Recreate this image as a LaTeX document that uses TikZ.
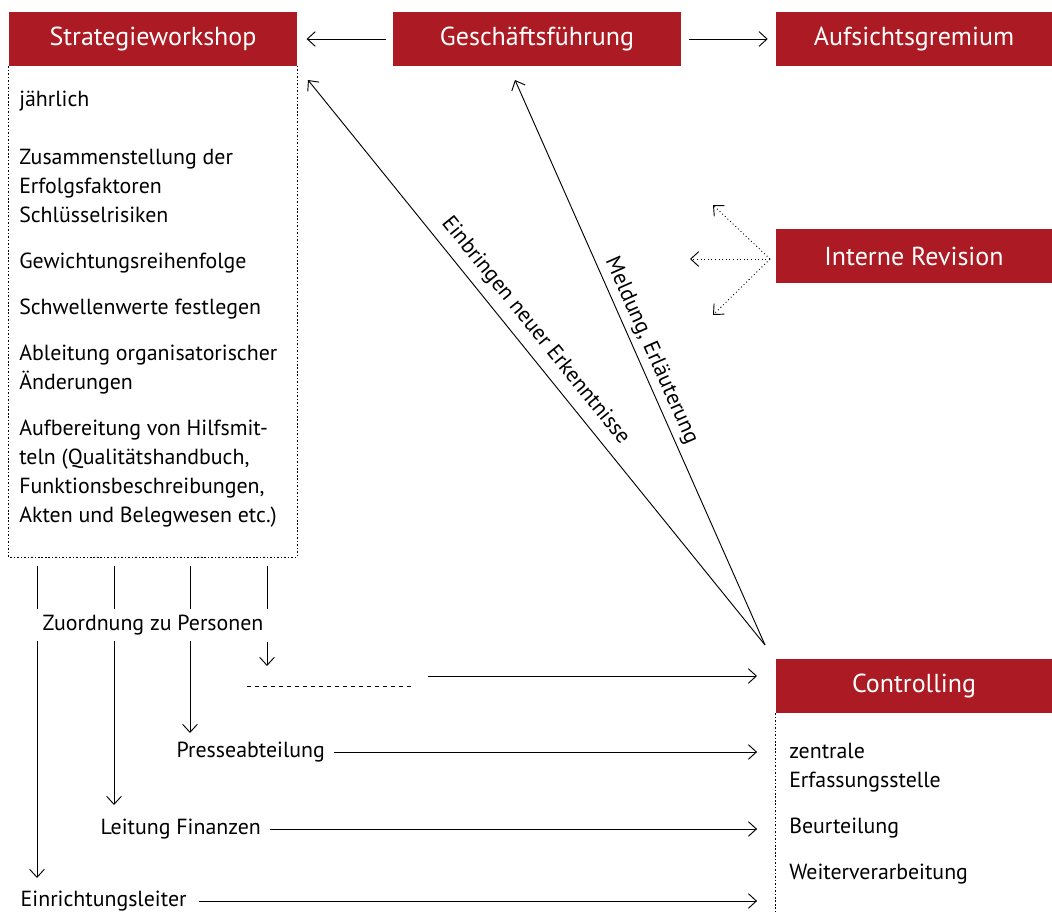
\documentclass[tikz,border=0pt]{standalone}
\usepackage{fontspec}
\setmainfont{PT Sans}
\usetikzlibrary{positioning,arrows.meta}
\definecolor{wred}{RGB}{172,27,35}
\tikzset{
  head/.style={fill=wred, text=white, minimum width=216pt, minimum height=40.5pt,
    inner sep=0pt, font=\fontsize{19.5}{22}\selectfont},
  rhead/.style={head, minimum width=207pt},
  item/.style={align=left, inner sep=0pt, font=\fontsize{16.4}{21.75}\selectfont},
  label/.style={font=\fontsize{16.4}{19}\selectfont},
  link/.style={-{Straight Barb[length=6pt, width=11pt]}, line width=0.7pt},
  frame/.style={line width=0.7pt, dash pattern=on 1.2pt off 1.4pt},
}
\begin{document}
\begin{tikzpicture}[x=0.75pt, y=-0.75pt]
  \useasboundingbox (0,0) rectangle (1052,912);

  % Kopfzeile
  \node[head] (strat) at (153,39) {Strategieworkshop};
  \node[head] (gf) at (537,39) {Geschäftsführung};
  \node[rhead] (aufs) at (914,39) {Aufsichtsgremium};
  \node[rhead] (rev) at (914,256) {Interne Revision};
  \node[rhead] (ctrl) at (914,686) {Controlling};

  \draw[link, shorten <=5pt, shorten >=7pt] (gf.west) -- (strat.east);
  \draw[link, shorten <=6pt, shorten >=6pt] (gf.east) -- (aufs.west);

  % Aufgaben Strategieworkshop
  \node[item, anchor=north west] (stratlist) at (19,91) {jährlich\\[21.75pt]
    Zusammenstellung der\\Erfolgsfaktoren\\Schlüsselrisiken\\[12.75pt]
    Gewichtungsreihenfolge\\[12.75pt]
    Schwellenwerte festlegen\\[12.75pt]
    Ableitung organisatorischer\\Änderungen\\[12.75pt]
    Aufbereitung von Hilfsmit-\\teln (Qualitätshandbuch,\\Funktionsbeschreibungen,\\Akten und Belegwesen etc.)};
  \draw[frame] (strat.south west) -- (strat.south west |- 0,557) -- (strat.south east |- 0,557) -- (strat.south east);

  % Aufgaben Controlling
  \node[item, anchor=north west] (ctrllist) at (789,743) {zentrale\\Erfassungsstelle\\[12.75pt]
    Beurteilung\\[12.75pt]
    Weiterverarbeitung};
  \draw[frame] (ctrl.south west) -- (ctrl.south west |- 0,912);

  % Zuordnung
  \node[label] (zuord) at (153,625) {Zuordnung zu Personen};
  \node[label, anchor=west] (presse) at (172,752) {Presseabteilung};
  \node[label, anchor=west] (finanz) at (96,829) {Leitung Finanzen};
  \node[label, anchor=west] (einr) at (16,901) {Einrichtungsleiter};

  \foreach \x in {37,114,190,267}
    \draw[line width=0.7pt] (\x,566) -- (\x,609);
  \draw[link] (37,641) -- (37,878);
  \draw[link] (114,641) -- (114,805);
  \draw[link] (190,641) -- (190,733);
  \draw[link] (267,642) -- (267,666);

  \coordinate (open) at (247,686);
  \draw[dashed, line width=0.6pt] (open) -- ++(165,0) coordinate (openend);
  \draw[link] (428,676) -- (757,676);

  \draw[link, shorten <=3pt, shorten >=14pt] (presse.east) -- (presse.east -| ctrl.west);
  \draw[link, shorten <=3pt, shorten >=14pt] (finanz.east) -- (finanz.east -| ctrl.west);
  \draw[link, shorten <=6pt, shorten >=14pt] (einr.east) -- (einr.east -| ctrl.west);

  % Rueckmeldungen
  \coordinate (back) at (765,645);
  \draw[link] (back) -- (308,80)
    node[label, sloped, above=3pt, pos=0.535] (einbr) {Einbringen neuer Erkenntnisse};
  \draw[link] (back) -- (515,80)
    node[label, sloped, above, pos=0.51] (meld) {Meldung, Erläuterung};

  % Revision
  \coordinate (revout) at (770,259);
  \draw[link, dotted] (revout) -- (713,205);
  \draw[link, dotted] (revout) -- (690,259);
  \draw[link, dotted] (revout) -- (713,315);
\end{tikzpicture}
\end{document}
